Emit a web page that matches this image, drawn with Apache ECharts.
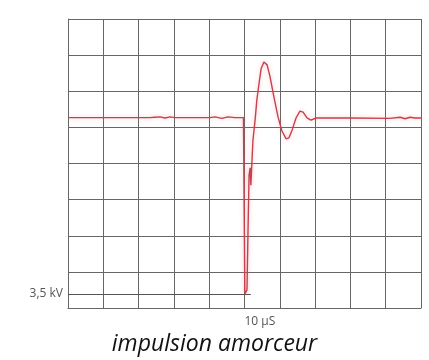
<!DOCTYPE html>
<html>
<head>
<meta charset="utf-8">
<script src="https://cdn.jsdelivr.net/npm/echarts@6/dist/echarts.min.js"></script>
<style>
  html, body { margin: 0; padding: 0; background: #fff; }
  #main { width: 429px; height: 360px; }
</style>
</head>
<body>
<div id="main"></div>
<script>
// x in time divisions (10 divs), y in voltage divisions (8 divs)
const timeDiv = [0, 0.91, 2.32, 2.46, 2.61, 2.75, 2.89, 3.03, 3.74, 4.02, 4.16, 4.36, 4.53, 4.73, 4.97,
  5.01, 5.07, 5.10, 5.13, 5.16, 5.18, 5.20, 5.24, 5.30, 5.35, 5.41, 5.47, 5.55, 5.64, 5.72, 5.84,
  5.95, 6.06, 6.18, 6.26, 6.35, 6.46, 6.57, 6.66, 6.77, 6.88, 7.03, 7.99, 9.12, 9.41, 9.55, 9.69, 9.83, 10];
const voltDiv = [5.27, 5.27, 5.27, 5.28, 5.29, 5.26, 5.29, 5.27, 5.27, 5.27, 5.29, 5.25, 5.29, 5.27, 5.27,
  0.39, 0.50, 2.16, 3.68, 3.88, 3.40, 3.82, 4.65, 5.20, 5.76, 6.20, 6.62, 6.81, 6.73, 6.42, 5.81,
  5.29, 4.90, 4.68, 4.71, 4.93, 5.26, 5.45, 5.42, 5.26, 5.20, 5.26, 5.26, 5.25, 5.28, 5.24, 5.28, 5.26, 5.26];
const refLevel = 0.39;      // 3,5 kV marker level
const refEnd = 5.18;
const refLabel = '3,5 kV';
const timeLabelAt = 5;
const timeLabel = '10 µS';

const points = timeDiv.map((t, i) => [t, voltDiv[i]]);

const chart = echarts.init(document.getElementById('main'));
const gridColor = '#666';
chart.setOption({
  animation: false,
  title: {
    text: 'impulsion amorceur',
    left: 'center',
    top: 328,
    textStyle: { fontFamily: 'Open Sans', fontStyle: 'italic', fontWeight: 'normal', fontSize: 23, color: '#111' }
  },
  grid: { left: 68, right: 8, top: 19, bottom: 52 },
  xAxis: {
    type: 'value', min: 0, max: 10, interval: 1,
    axisLine: { lineStyle: { color: gridColor } },
    axisTick: { show: false },
    splitLine: { lineStyle: { color: gridColor, width: 1 } },
    axisLabel: {
      align: 'left', margin: 8, color: '#555', fontFamily: 'Open Sans', fontSize: 12,
      formatter: v => v === timeLabelAt ? timeLabel : ''
    }
  },
  yAxis: {
    type: 'value', min: 0, max: 8, interval: 1,
    axisLine: { show: true, lineStyle: { color: gridColor } },
    axisTick: { show: false },
    axisLabel: { show: false },
    splitLine: { lineStyle: { color: gridColor, width: 1 } }
  },
  series: [{
    type: 'line',
    data: points,
    symbol: 'none',
    lineStyle: { color: '#c8404c', width: 1.4, shadowColor: 'rgba(235,110,120,0.45)', shadowBlur: 4 },
    markLine: {
      silent: true,
      symbol: 'none',
      lineStyle: { color: '#555', type: 'solid', width: 1 },
      label: { position: 'start', formatter: refLabel, color: '#555', fontFamily: 'Open Sans', fontSize: 12, distance: 5 },
      data: [[{ coord: [0, refLevel] }, { coord: [refEnd, refLevel] }]]
    }
  }]
});
</script>
</body>
</html>
